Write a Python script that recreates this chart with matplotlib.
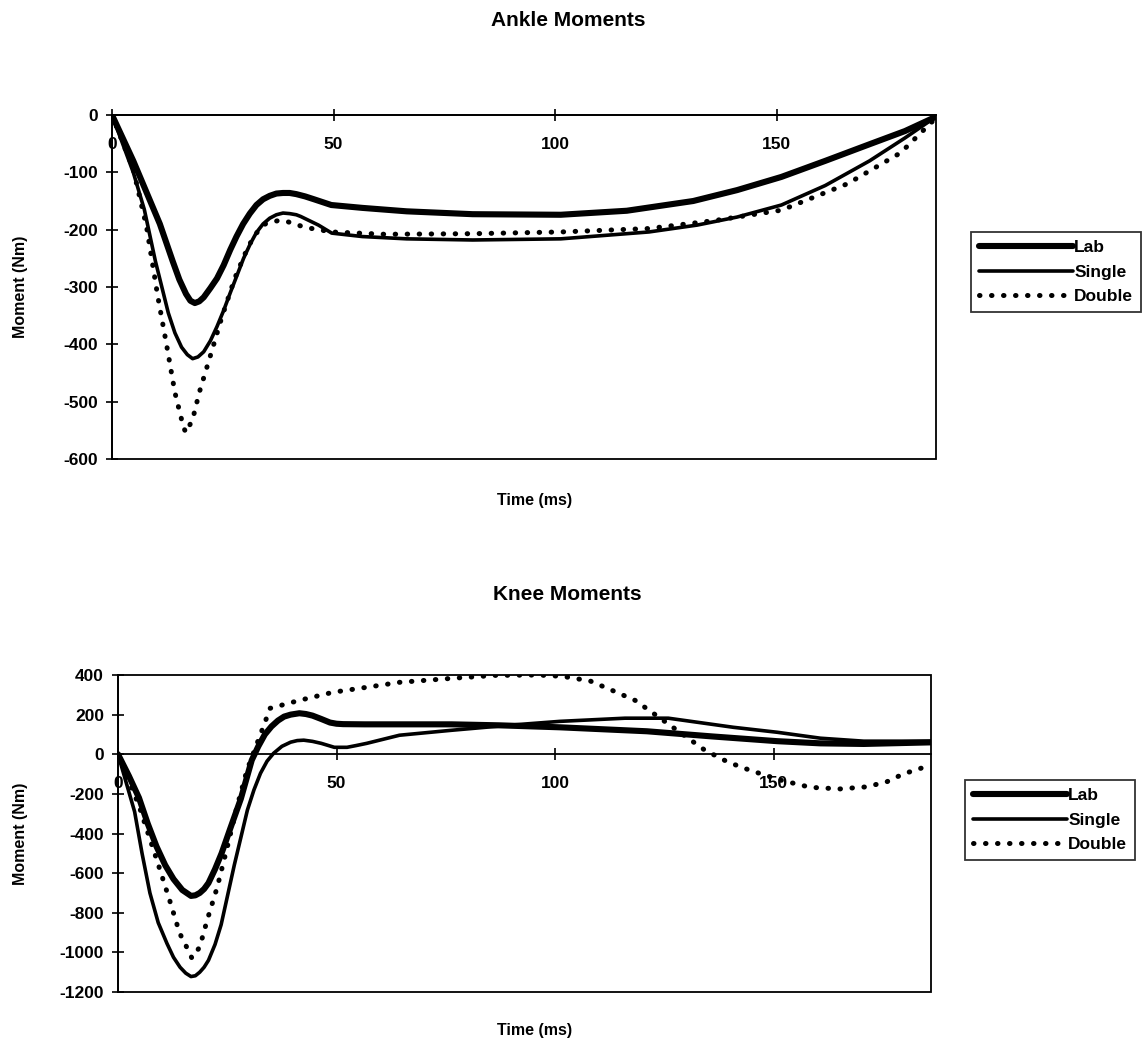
from __future__ import annotations

import matplotlib

matplotlib.use("Agg")
import matplotlib.pyplot as plt
from matplotlib.patches import Rectangle

plt.rcParams["font.family"] = ["Liberation Sans", "DejaVu Sans"]
plt.rcParams["font.weight"] = "bold"
plt.rcParams["axes.unicode_minus"] = False

# Ankle joint moments (Nm) against time (ms)
ankle_lab_t = [0, 4.8, 7.8, 10.8, 13.7, 15.2, 16.7, 17.7, 18.7, 19.7, 20.7, 22.2, 23.7, 25.2, 26.7,
               28.1, 29.6, 31.1, 32.6, 34.1, 35.6, 37.1, 38.6, 40.1, 41.6, 43.6, 45.6, 49.5,
               56.5, 66.5, 81.4, 101.3, 116.2, 131.2, 141.1, 151.1, 161, 171, 179, 186]
ankle_lab_nm = [0, -80, -135, -190, -255, -287, -312, -324, -328, -325, -318, -302, -285, -262,
                -235, -212, -190, -172, -157, -147, -141, -137, -136, -136, -138, -142, -147,
                -157, -162, -168, -173, -174, -167, -150, -131, -108, -80, -51, -28, -3]

ankle_single_t = [0, 4.8, 7.3, 9.8, 12.7, 14.2, 15.7, 17, 18.2, 19.4, 20.7, 22.2, 23.7, 25.2,
                  26.7, 28.2, 29.7, 31.2, 32.6, 34.1, 35.6, 37.1, 38.6, 40.1, 41.6, 42.6, 46.6,
                  49.6, 56.5, 66.5, 81.4, 101.3, 121.2, 132.1, 141.1, 151.1, 161, 171, 179, 186]
ankle_single_nm = [0, -100, -165, -255, -345, -380, -405, -418, -425, -422, -413, -394, -369,
                   -341, -310, -280, -250, -225, -205, -190, -180, -174, -171, -172, -174, -177,
                   -192, -206, -212, -216, -218, -216, -204, -192, -178, -157, -123, -80, -40, -3]

ankle_double_t = [0, 4.8, 7.8, 10.3, 12.3, 14.2, 15.7, 16.2, 16.7, 17.2, 18.2, 19.7, 22.2, 24.7,
                  27.7, 30.7, 32.6, 34.6, 37.6, 39.6, 43.6, 49.6, 61.5, 81.4, 101.3, 121.2,
                  136.1, 151.1, 166, 178, 186]
ankle_double_nm = [0, -95, -195, -315, -400, -484, -531, -546, -554, -546, -531, -484, -420, -355,
                   -285, -230, -206, -190, -184, -186, -196, -204, -208, -207, -204, -198,
                   -184, -166, -120, -66, -5]

# Knee joint moments (Nm) against time (ms)
knee_lab_t = [0, 2.5, 4.8, 6.8, 8.8, 10.8, 12.7, 14.7, 16.7, 17.7, 18.7, 19.7, 20.7, 22.2, 23.7,
              25.6, 28.1, 30.6, 32.1, 33.6, 35.1, 36.6, 38, 39.5, 41.5, 43, 44.5, 46.5, 48.5,
              50, 51.5, 56.4, 66.4, 76.3, 87.2, 101.1, 111, 121, 135.9, 150.8, 160.7, 170.6, 186]
knee_lab_nm = [0, -110, -220, -350, -465, -560, -630, -685, -715, -712, -700, -680, -650, -580,
               -500, -380, -225, -30, 40, 100, 140, 170, 190, 200, 207, 203, 195, 178, 160,
               154, 152, 151, 151, 151, 146, 136, 126, 116, 90, 66, 55, 52, 60]

knee_single_t = [0, 3.8, 5.5, 7.3, 9.2, 11.2, 12.7, 14.2, 15.5, 16.7, 17.7, 18.7, 19.7, 20.7,
                 22.2, 23.6, 26.6, 29.6, 31.1, 32.6, 34.1, 35.6, 37.5, 39.5, 41, 42.5, 44.5,
                 46.5, 49.5, 52.4, 54.5, 56.9, 64.4, 76.3, 89.2, 101.1, 116, 125.9, 140.8,
                 150.8, 160.7, 170.6, 186]
knee_single_nm = [0, -290, -500, -700, -850, -955, -1025, -1075, -1105, -1122, -1118, -1100,
                  -1075, -1040, -960, -860, -560, -282, -180, -96, -35, 5, 40, 61, 69, 71, 65,
                  55, 35, 35, 44, 55, 96, 121, 146, 166, 182, 182, 136, 111, 81, 66, 66]

knee_double_t = [0, 4.8, 8.9, 11.8, 14.1, 15.7, 16.9, 18.7, 20.4, 22.7, 25, 27.2, 29.5, 33.2,
                 34.8, 41.5, 49.2, 56.9, 64.4, 76.3, 86.2, 96.1, 101.8, 108, 113, 118.3, 122.9,
                 128.6, 134.3, 139.6, 144.6, 151.5, 158.4, 165.2, 171, 175.7, 179.6, 183.5, 186]
knee_double_nm = [0, -260, -535, -736, -903, -973, -1029, -973, -837, -671, -469, -267, -81, 136,
                  232, 272, 313, 338, 363, 383, 398, 400, 393, 370, 323, 272, 200,
                  110, 20, -40, -81, -130, -167, -175, -165, -141, -100, -72, -55]

x_ticks = [0, 50, 100, 150]
ankle_y_ticks = [0, -100, -200, -300, -400, -500, -600]
knee_y_ticks = [400, 200, 0, -200, -400, -600, -800, -1000, -1200]
series_names = ["Lab", "Single", "Double"]

FIG_W, FIG_H = 1144, 1049

LINE_STYLES = {
    "Lab": dict(color="black", linewidth=4.4, linestyle="-", solid_capstyle="round",
                solid_joinstyle="round"),
    "Single": dict(color="black", linewidth=2.6, linestyle="-", solid_capstyle="round",
                   solid_joinstyle="round"),
    "Double": dict(color="black", linewidth=3.6, linestyle=(0, (0.1, 2.3)),
                   dash_capstyle="round"),
}


def px_rect(left: float, top: float, right: float, bottom: float) -> list[float]:
    return [left / FIG_W, 1 - bottom / FIG_H, (right - left) / FIG_W, (bottom - top) / FIG_H]


def draw_panel(fig, rect, series, y_ticks, ylabel_x, legend_anchor):
    ax = fig.add_axes(rect)
    for name, (t, nm) in zip(series_names, series):
        ax.plot(t, nm, label=name, **LINE_STYLES[name])

    ax.set_xlim(0, 186)
    ax.set_ylim(min(y_ticks), max(y_ticks))
    ax.set_xticks(x_ticks)
    ax.set_yticks(y_ticks)

    # the time axis crosses at zero moment, with a plain frame around the plot area
    ax.spines["bottom"].set_position(("data", 0))
    ax.spines["bottom"].set_linewidth(1.3)
    for side in ("top", "right"):
        ax.spines[side].set_visible(False)
    ax.spines["left"].set_linewidth(1.3)
    ax.add_patch(Rectangle((0, 0), 1, 1, transform=ax.transAxes, fill=False,
                           edgecolor="black", linewidth=1.3, clip_on=False, zorder=3))

    ax.tick_params(axis="both", direction="inout", length=8, width=1.2,
                   labelsize=12.5, colors="black")
    ax.tick_params(axis="x", pad=12)
    ax.tick_params(axis="y", pad=6)

    ax.set_ylabel("Moment (Nm)", fontsize=11.5, fontweight="bold")
    ax.yaxis.set_label_coords(ylabel_x, 0.5)

    leg = ax.legend(loc="upper left", bbox_to_anchor=legend_anchor,
                    bbox_transform=fig.transFigure, frameon=True, fancybox=False,
                    edgecolor="black", fontsize=12.5, handlelength=5.4, handletextpad=0.1,
                    borderpad=0.45, labelspacing=0.55, borderaxespad=0)
    leg.get_frame().set_linewidth(1.3)
    return ax


fig = plt.figure(figsize=(FIG_W / 100, FIG_H / 100), dpi=100)

draw_panel(
    fig, px_rect(112, 115, 936, 459),
    [(ankle_lab_t, ankle_lab_nm), (ankle_single_t, ankle_single_nm),
     (ankle_double_t, ankle_double_nm)],
    ankle_y_ticks, -0.102, (971 / FIG_W, 1 - 232 / FIG_H),
)
draw_panel(
    fig, px_rect(118, 675, 931, 992),
    [(knee_lab_t, knee_lab_nm), (knee_single_t, knee_single_nm),
     (knee_double_t, knee_double_nm)],
    knee_y_ticks, -0.111, (965 / FIG_W, 1 - 780 / FIG_H),
)

fig.text(568 / FIG_W, 1 - 20 / FIG_H, "Ankle Moments", ha="center", va="center",
         fontsize=15, fontweight="bold")
fig.text(567 / FIG_W, 1 - 594 / FIG_H, "Knee Moments", ha="center", va="center",
         fontsize=15, fontweight="bold")
fig.text(535 / FIG_W, 1 - 500 / FIG_H, "Time (ms)", ha="center", va="center",
         fontsize=11.5, fontweight="bold")
fig.text(535 / FIG_W, 1 - 1030 / FIG_H, "Time (ms)", ha="center", va="center",
         fontsize=11.5, fontweight="bold")

fig.savefig("out.png", dpi=100)
plt.close(fig)
